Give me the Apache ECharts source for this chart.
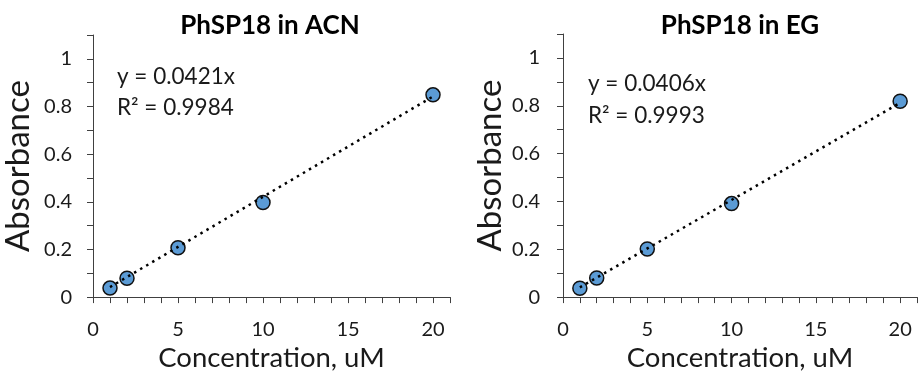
<!DOCTYPE html>
<html><head><meta charset="utf-8">
<script src="https://cdn.jsdelivr.net/npm/echarts@6/dist/echarts.min.js"></script>
<style>html,body{margin:0;padding:0;background:#fff}#c{width:920px;height:377px}</style>
</head><body><div id="c"></div>
<script>
const concentrations = [1, 2, 5, 10, 20];
const absACN = [0.038, 0.079, 0.207, 0.397, 0.849];
const absEG = [0.037, 0.080, 0.201, 0.391, 0.819];
const slopeACN = 0.0421;
const slopeEG = 0.0406;
const titles = ['PhSP18 in ACN', 'PhSP18 in EG'];
const equations = [['y = 0.0421x', 'R² = 0.9984'], ['y = 0.0406x', 'R² = 0.9993']];
const xLabels = [0, 5, 10, 15, 20];
const yLabels = [0, 0.2, 0.4, 0.6, 0.8, 1];

const FONT = 'Lato';
const AX = '#404040';
const TXT = '#1a1a1a';
const chart = echarts.init(document.getElementById('c'));

function pts(ys){ return concentrations.map((x,i)=>[x, ys[i]]); }
function trend(slope){ const x0 = concentrations[0], x1 = concentrations[concentrations.length-1]; return [[x0, slope*x0],[x1, slope*x1]]; }

const grids = [
  {left: 93, top: 35, width: 357, height: 270},
  {left: 563, top: 34, width: 357, height: 274}
];

function xAxis(i){
  return {gridIndex:i, type:'value', min:0, max:21, interval:1,
    axisLine:{lineStyle:{color:AX, width:1}},
    axisTick:{show:true, length:6, lineStyle:{color:AX}},
    splitLine:{show:false},
    axisLabel:{color:TXT, fontFamily:FONT, fontSize:20, margin:22,
      formatter: v => xLabels.indexOf(Math.round(v)) >= 0 && Math.abs(v-Math.round(v))<1e-6 ? String(Math.round(v)) : ''},
    name:'Concentration, uM', nameLocation:'middle', nameGap:46,
    nameTextStyle:{color:TXT, fontFamily:FONT, fontSize:27.5}
  };
}
function yAxis(i){
  return {gridIndex:i, type:'value', min:0, max:1.1, interval:0.1,
    axisLine:{show:true, lineStyle:{color:AX, width:1}},
    axisTick:{show:true, length:6, lineStyle:{color:AX}},
    splitLine:{show:false},
    axisLabel:{color:TXT, fontFamily:FONT, fontSize:20, margin:i===0 ? 21 : 23,
      formatter: v => { const r = Math.round(v*10)/10; return yLabels.some(l=>Math.abs(l-r)<1e-6) ? String(r) : ''; }},
    name:'Absorbance', nameLocation:'middle', nameGap: i===0 ? 58 : 56,
    nameTextStyle:{color:TXT, fontFamily:FONT, fontSize:33}
  };
}

const data = [absACN, absEG];
const slopes = [slopeACN, slopeEG];
const series = [];
for (let i=0;i<2;i++){
  series.push({type:'scatter', xAxisIndex:i, yAxisIndex:i, data:pts(data[i]), symbolSize:14, z:2,
    itemStyle:{color:'#5B9BD5', borderColor:'#111', borderWidth:1.5, opacity:1}});
  series.push({type:'line', xAxisIndex:i, yAxisIndex:i, data:trend(slopes[i]), symbol:'none', z:3,
    lineStyle:{color:'#000', width:2.5, type:[2.5,4.5]}});
}

chart.setOption({
  animation:false,
  title:[
    {text:titles[0], left:265, top:8, textAlign:'center', textStyle:{fontFamily:FONT, fontSize:26, fontWeight:'bold', color:'#000'}},
    {text:titles[1], left:735, top:8, textAlign:'center', textStyle:{fontFamily:FONT, fontSize:26, fontWeight:'bold', color:'#000'}},
    {text:equations[0].join('\n'), left:112, top:56, textStyle:{fontFamily:FONT, fontSize:22.5, fontWeight:'normal', color:TXT, lineHeight:31}},
    {text:equations[1].join('\n'), left:583, top:63, textStyle:{fontFamily:FONT, fontSize:22.5, fontWeight:'normal', color:TXT, lineHeight:32}}
  ],
  grid:grids,
  xAxis:[xAxis(0), xAxis(1)],
  yAxis:[yAxis(0), yAxis(1)],
  series:series
});
</script></body></html>
